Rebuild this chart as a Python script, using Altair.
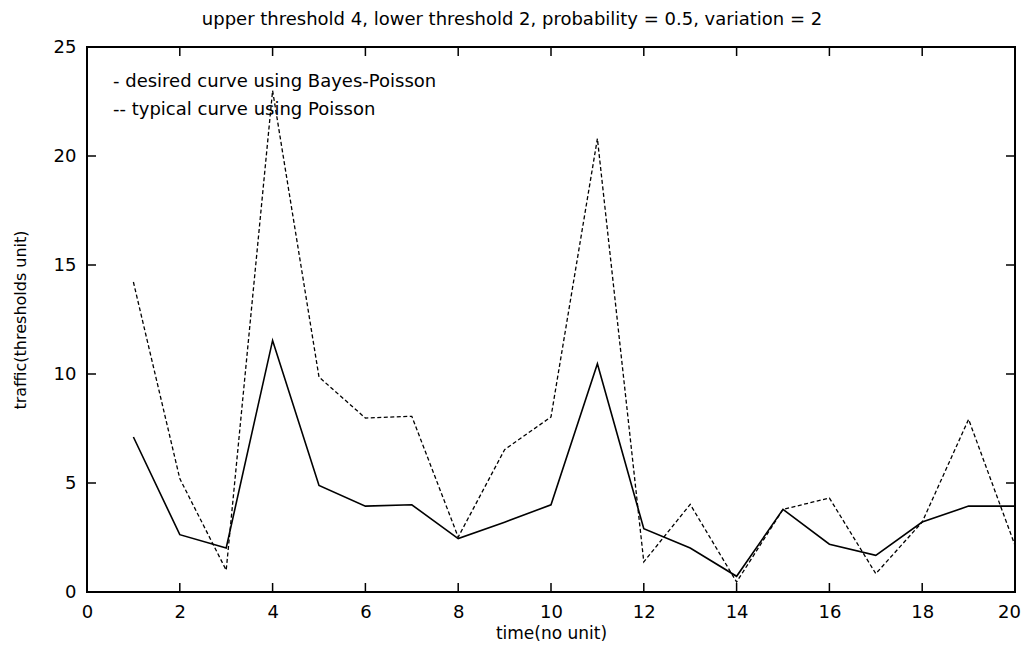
import altair as alt
import pandas as pd

# ---- data ----
time = list(range(1, 21))
bayes_poisson = [7.11, 2.63, 2.02, 11.54, 4.89, 3.94, 4.00, 2.45, 3.20, 4.00,
                 10.47, 2.90, 2.02, 0.72, 3.79, 2.19, 1.68, 3.21, 3.94, 3.94]
poisson = [14.22, 5.20, 1.00, 23.00, 9.86, 7.98, 8.06, 2.52, 6.53, 8.03,
           20.80, 1.38, 4.02, 0.46, 3.79, 4.31, 0.84, 3.21, 7.92, 2.14]
x_ticks = [0, 2, 4, 6, 8, 10, 12, 14, 16, 18, 20]
y_ticks = [0, 5, 10, 15, 20, 25]
title_text = "upper threshold 4, lower threshold 2, probability = 0.5, variation = 2"
legend_lines = ["- desired curve using Bayes-Poisson", "-- typical curve using Poisson"]
x_title = "time(no unit)"
y_title = "traffic(thresholds unit)"

W, H = 928, 545
FONT = "DejaVu Sans"

df = pd.DataFrame({"time": time, "bayes": bayes_poisson, "poisson": poisson})
xt = pd.DataFrame({"v": x_ticks})
yt = pd.DataFrame({"v": y_ticks})
leg = pd.DataFrame({"label": legend_lines, "row": [0, 1]})

xscale = alt.Scale(domain=[0, 20], nice=False, zero=False)
yscale = alt.Scale(domain=[0, 25], nice=False, zero=False)

x_axis = alt.Axis(values=x_ticks, ticks=False, domain=False, grid=False,
                  labelFont=FONT, labelFontSize=18, labelColor="black",
                  labelPadding=11, labelFlush=False, labelOverlap=False,
                  labelOffset={"condition": {"test": "datum.value >= 20", "value": -6}, "value": 0},
                  title=x_title, titleFont=FONT, titleFontSize=17,
                  titleFontWeight="normal", titleColor="black",
                  titleX=W / 2, titleY=46, titleBaseline="alphabetic")
y_axis = alt.Axis(values=y_ticks, ticks=False, domain=False, grid=False,
                  labelFont=FONT, labelFontSize=18, labelColor="black",
                  labelPadding=11, labelFlush=False, labelOverlap=False,
                  title=y_title, titleFont=FONT, titleFontSize=16,
                  titleFontWeight="normal", titleColor="black",
                  titleX=-67, titleY=H / 2, titleAngle=-90,
                  titleBaseline="middle", titleAlign="center")

base = alt.Chart(df)

solid = base.mark_line(color="black", strokeWidth=1.6).encode(
    x=alt.X("time:Q", scale=xscale, axis=x_axis),
    y=alt.Y("bayes:Q", scale=yscale, axis=y_axis),
)
dashed = base.mark_line(color="black", strokeWidth=1.3, strokeDash=[4, 2.5]).encode(
    x=alt.X("time:Q", scale=xscale, axis=None),
    y=alt.Y("poisson:Q", scale=yscale, axis=None),
)

tick_style = dict(color="black", strokeWidth=1.5)
left_ticks = alt.Chart(yt).mark_rule(**tick_style).encode(
    y=alt.Y("v:Q", scale=yscale, axis=None), x=alt.value(0), x2=alt.value(9))
right_ticks = alt.Chart(yt).mark_rule(**tick_style).encode(
    y=alt.Y("v:Q", scale=yscale, axis=None), x=alt.value(W), x2=alt.value(W - 9))
bottom_ticks = alt.Chart(xt).mark_rule(**tick_style).encode(
    x=alt.X("v:Q", scale=xscale, axis=None), y=alt.value(H), y2=alt.value(H - 9))
top_ticks = alt.Chart(xt).mark_rule(**tick_style).encode(
    x=alt.X("v:Q", scale=xscale, axis=None), y=alt.value(0), y2=alt.value(9))

legend_text = alt.Chart(leg).mark_text(
    align="left", baseline="alphabetic", font=FONT, fontSize=18, color="black"
).encode(
    text="label:N",
    x=alt.value(26),
    y=alt.Y("row:Q", scale=alt.Scale(domain=[0, 1], range=[40, 68]), axis=None),
)

chart = alt.layer(
    solid, dashed, left_ticks, right_ticks, bottom_ticks, top_ticks, legend_text
).resolve_scale(x="independent", y="independent").properties(
    width=W, height=H,
    title=alt.TitleParams(text=title_text, font=FONT, fontSize=18,
                          fontWeight="normal", color="black",
                          anchor="middle", dx=-39, offset=9),
    autosize=alt.AutoSizeParams(type="none"),
    padding={"left": 79, "top": 39, "right": 6, "bottom": 50},
).configure(
    background="white",
    view=alt.ViewConfig(stroke="black", strokeWidth=2),
)

chart.save("out.html", embed_options={"renderer": "svg", "actions": False})
